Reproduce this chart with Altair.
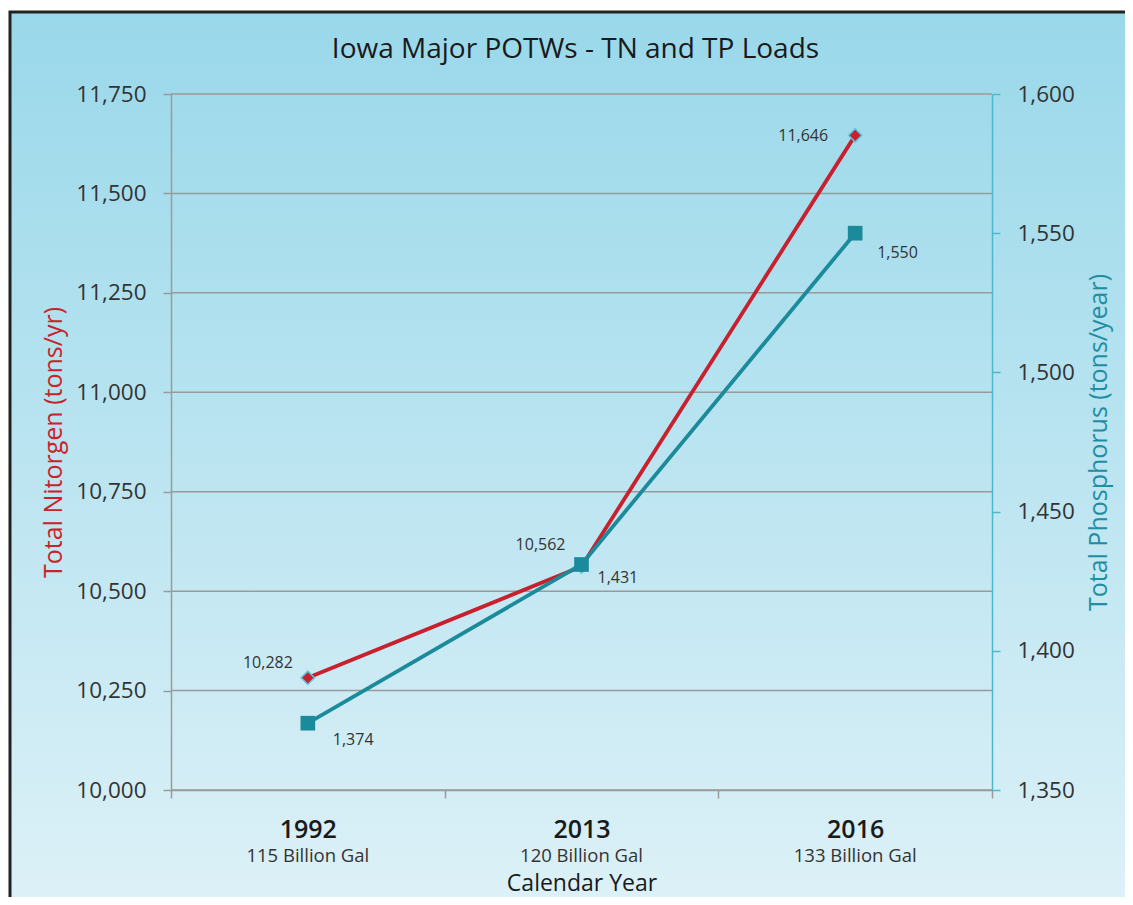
import altair as alt
import pandas as pd

# ---- data ----
years = ["1992", "2013", "2016"]
volumes = ["115 Billion Gal", "120 Billion Gal", "133 Billion Gal"]
nitrogen = [10282, 10562, 11646]
phosphorus = [1374, 1431, 1550]
n_ticks = [10000, 10250, 10500, 10750, 11000, 11250, 11500, 11750]
p_ticks = [1350, 1400, 1450, 1500, 1550, 1600]

df = pd.DataFrame({"year": years, "volume": volumes, "tn": nitrogen, "tp": phosphorus})
grid_df = pd.DataFrame({"v": n_ticks})

FONT = "Open Sans"
RED = "#c8202d"
TEAL = "#1b8a9b"
GRID = "#9a9a9a"
W, H = 821, 696

xscale = alt.Scale(domain=years, paddingInner=0, paddingOuter=0)
nscale = alt.Scale(domain=[n_ticks[0], n_ticks[-1]], nice=False, zero=False)
pscale = alt.Scale(domain=[p_ticks[0], p_ticks[-1]], nice=False, zero=False)

year_axis = alt.Axis(
    orient="bottom", title=None, labelAngle=0, tickBand="extent",
    ticks=True, tickSize=8, tickColor=GRID, tickWidth=1.5,
    domain=True, domainColor=GRID, domainWidth=1.5, labelFontSize=25,
    labelFontWeight=600, labelColor="#1a1a1a", labelFont=FONT, labelPadding=19,
    grid=False, zindex=1,
)
vol_expr = "[" + ",".join("'%s'" % v for v in volumes) + "][indexof([" + \
    ",".join("'%s'" % y for y in years) + "], datum.label)]"
vol_axis = alt.Axis(
    orient="bottom", labelExpr=vol_expr, domain=False, ticks=False, labelAngle=0,
    labelFontSize=18.5, labelColor="#333333", labelFont=FONT, labelPadding=56,
    title="Calendar Year", titleFontSize=23, titleFontWeight="normal",
    titleColor="#1a1a1a", titleFont=FONT, titlePadding=8, grid=False, zindex=1,
)
title_axis = alt.Axis(
    orient="top", labels=False, ticks=False, domain=False, grid=False,
    title="Iowa Major POTWs - TN and TP Loads", titleFontSize=28,
    titleFontWeight="normal", titleColor="#1a1a1a", titleFont=FONT,
    titleX=404, titleY=-37, titleBaseline="alphabetic", titleAlign="center", zindex=1,
)
left_axis = alt.Axis(
    orient="left", values=n_ticks, format=",d", domainColor=GRID, domainWidth=1.5,
    tickColor=GRID, tickWidth=1.5, tickSize=8, labelFontSize=22.5,
    labelColor="#333333", labelFont=FONT, labelPadding=17,
    title="Total Nitorgen (tons/yr)", titleColor="#cc2229", titleFontSize=25,
    titleFontWeight="normal", titleFont=FONT, titlePadding=9, grid=False, zindex=1,
)
right_axis = alt.Axis(
    orient="right", values=p_ticks, format=",d", domainColor="#4db8cc",
    domainWidth=1.5, tickColor="#4db8cc", tickWidth=1.5, tickSize=8,
    labelFontSize=22.5, labelColor="#333333", labelFont=FONT, labelPadding=17,
    title="Total Phosphorus (tons/year)", titleColor="#1f8ea2", titleFontSize=25,
    titleFontWeight="normal", titleFont=FONT, titlePadding=12, titleAngle=270,
    titleBaseline="top", grid=False, zindex=1,
)


def X(axis=None):
    return alt.X("year:N", scale=xscale, axis=axis)


gradient = alt.LinearGradient(
    gradient="linear",
    stops=[alt.GradientStop(color="#99d8ea", offset=0),
           alt.GradientStop(color="#e0f2f8", offset=1)],
    x1=0, x2=0, y1=0, y2=1,
)

bg = alt.Chart(pd.DataFrame({"a": [0]})).mark_rect(
    fill=gradient, stroke="#222222", strokeWidth=3
).encode(
    x=alt.value(-161), x2=alt.value(W + 160), y=alt.value(-82), y2=alt.value(H + 160)
)

grid = alt.Chart(grid_df).mark_rule(color=GRID, strokeWidth=1.5).encode(
    y=alt.Y("v:Q", scale=nscale, axis=None)
)

n_line = alt.Chart(df).mark_line(color=RED, strokeWidth=3.8).encode(
    x=X(year_axis), y=alt.Y("tn:Q", scale=nscale, axis=left_axis)
)
n_pts = alt.Chart(df).mark_point(
    shape="diamond", filled=True, fill=RED, stroke="#5ec8e0", strokeWidth=1.5,
    size=180, opacity=1
).encode(x=X(title_axis), y=alt.Y("tn:Q", scale=nscale, axis=None))

p_line = alt.Chart(df).mark_line(color=TEAL, strokeWidth=3.8).encode(
    x=X(vol_axis), y=alt.Y("tp:Q", scale=pscale, axis=right_axis)
)
p_pts = alt.Chart(df).mark_point(
    shape="square", filled=True, fill=TEAL, size=215, opacity=1
).encode(x=X(), y=alt.Y("tp:Q", scale=pscale, axis=None))

# label placement (style, per point)
n_label_style = {"1992": (-15, -15), "2013": (-16, -21), "2016": (-27, 1)}
p_label_style = {"1992": (25, 17), "2013": (16, 14), "2016": (22, 20)}

texts = []
for yr in years:
    dx, dy = n_label_style[yr]
    texts.append(
        alt.Chart(df).transform_filter(alt.datum.year == yr).mark_text(
            align="right", baseline="middle", dx=dx, dy=dy, fontSize=16,
            color="#333333", font=FONT
        ).encode(x=X(), y=alt.Y("tn:Q", scale=nscale, axis=None),
                 text=alt.Text("tn:Q", format=","))
    )
for yr in years:
    dx, dy = p_label_style[yr]
    texts.append(
        alt.Chart(df).transform_filter(alt.datum.year == yr).mark_text(
            align="left", baseline="middle", dx=dx, dy=dy, fontSize=16,
            color="#333333", font=FONT
        ).encode(x=X(), y=alt.Y("tp:Q", scale=pscale, axis=None),
                 text=alt.Text("tp:Q", format=","))
    )

chart = alt.layer(
    bg, grid, n_line, n_pts, p_line, p_pts, *texts
).resolve_scale(
    y="independent"
).resolve_axis(
    x="independent", y="independent"
).properties(
    width=W, height=H,
    padding={"left": 163, "top": 86, "right": 133, "bottom": 107},
    autosize=alt.AutoSizeParams(type="none"),
    background="white",
).configure(font=FONT).configure_view(stroke=None)

chart.save("out.html", embed_options={"renderer": "svg", "actions": False})
